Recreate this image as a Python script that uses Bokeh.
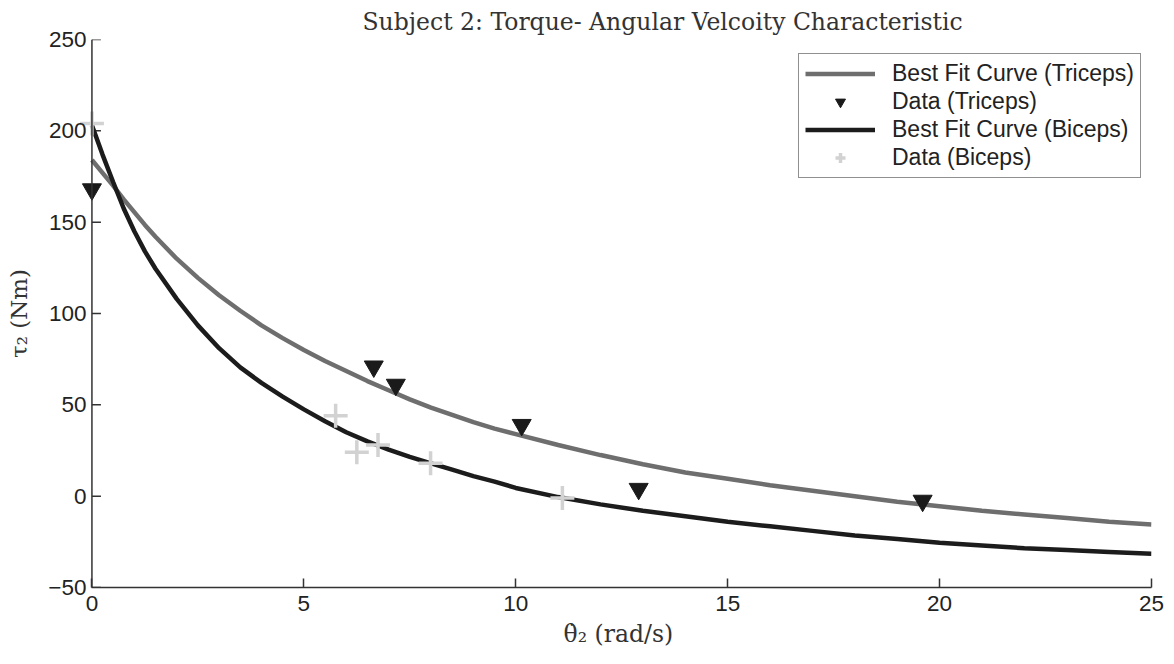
from bokeh.plotting import figure
from bokeh.models import Range1d, Legend, LegendItem, FixedTicker, Span, Title
from bokeh.embed import file_html
from bokeh.resources import INLINE

# ---- data ----
fit_x = [0, 0.25, 0.5, 0.75, 1, 1.25, 1.5, 2, 2.5, 3, 3.5, 4, 4.5, 5, 5.5,
         6, 6.5, 7, 7.5, 8, 8.5, 9, 9.5, 10, 11, 12, 13, 14, 15, 16, 17, 18,
         19, 20, 21, 22, 23, 24, 25]
triceps_fit = [184, 177, 170, 162.5, 155.5, 148.5, 142, 130, 119.5, 110,
               101.5, 93.5, 86.5, 80, 74, 68.5, 63, 58, 53, 48.5, 44.5, 40.5,
               37, 34, 28, 22.5, 17.5, 13, 9.5, 6, 3, 0, -3, -5.5, -8, -10,
               -12, -14, -15.5]
biceps_fit = [203, 187, 172, 157.5, 145, 134, 124.5, 108, 93.5, 81, 70.5, 62,
              54.5, 47.5, 41, 35, 30, 25.5, 21.5, 18, 14.5, 11, 8, 4.5, -0.5,
              -4.5, -8, -11, -14, -16.5, -19, -21.5, -23.5, -25.5, -27, -28.5,
              -29.5, -30.5, -31.5]

triceps_x = [0, 6.65, 7.17, 10.14, 12.9, 19.6]
triceps_y = [168, 71, 61, 39, 4, -2.5]

biceps_x = [0, 5.75, 6.25, 6.75, 7.99, 11.1]
biceps_y = [204, 44, 24, 28, 18, -1]

x_ticks = [0, 5, 10, 15, 20, 25]
y_ticks = [-50, 0, 50, 100, 150, 200, 250]

title_text = "Subject 2: Torque- Angular Velcoity Characteristic"
x_label = "\u03b8\u0307\u2082 (rad/s)"
y_label = "\u03c4\u2082 (Nm)"

AX = "#333333"
X_MIN, X_MAX = 0, 25
Y_MIN, Y_MAX = -50, 250

# frame starts slightly left of x=0 so the markers at x=0 are not clipped
p = figure(width=1174, height=664, output_backend="svg", toolbar_location=None,
           x_range=Range1d(X_MIN - 0.6, X_MAX), y_range=Range1d(Y_MIN, Y_MAX),
           min_border_left=66, min_border_right=23, min_border_top=39,
           min_border_bottom=77)
p.outline_line_color = None
p.background_fill_color = "white"
p.border_fill_color = "white"
p.xgrid.visible = False
p.ygrid.visible = False

p.title.text = title_text
p.title.text_font = "DejaVu Serif"
p.title.text_font_style = "normal"
p.title.text_font_size = "23.5px"
p.title.text_color = AX
p.title.align = "left"
p.title.offset = 296
p.title.standoff = 8

for ax, ticks in ((p.xaxis[0], x_ticks), (p.yaxis[0], y_ticks)):
    ax.ticker = FixedTicker(ticks=ticks)
    ax.major_tick_in = 9
    ax.major_tick_out = 0
    ax.minor_tick_line_color = None
    ax.axis_line_color = AX
    ax.major_tick_line_color = AX
    ax.axis_line_width = 1.5
    ax.major_tick_line_width = 1.5
    ax.major_label_text_font = "Liberation Sans"
    ax.major_label_text_font_size = "22.5px"
    ax.major_label_text_color = "#222222"
    ax.axis_label_text_font = "DejaVu Serif"
    ax.axis_label_text_font_style = "normal"
    ax.axis_label_text_color = AX

p.xaxis[0].bounds = (X_MIN, X_MAX)
p.xaxis[0].major_label_standoff = 8
# y axis: the visible line and ticks are drawn at x = 0 below
p.yaxis[0].axis_line_color = None
p.yaxis[0].major_tick_line_color = None
p.yaxis[0].major_label_standoff = -20
p.yaxis[0].axis_label = y_label
p.yaxis[0].axis_label_text_font_size = "23px"
p.yaxis[0].axis_label_standoff = 13

p.add_layout(Span(location=X_MIN, dimension="height", line_color=AX,
                  line_width=1.5))
p.ray(x=[X_MIN] * len(y_ticks), y=y_ticks, length=9, length_units="screen",
      angle=0, line_color=AX, line_width=1.5)

# x axis title under the 0..25 axis span
p.add_layout(Title(text=x_label, align="left", offset=497, standoff=9,
                   text_font="DejaVu Serif", text_font_style="normal",
                   text_font_size="23.5px", text_color=AX), "below")

r_tfit = p.line(fit_x, triceps_fit, line_color="#6e6e6e", line_width=4.5)
r_tdat = p.scatter(triceps_x, triceps_y, marker="inverted_triangle", size=19,
                   fill_color="#1a1a1a", line_color="#1a1a1a")
r_bfit = p.line(fit_x, biceps_fit, line_color="#1c1c1c", line_width=4.5)
r_bdat = p.scatter(biceps_x, biceps_y, marker="cross", size=24,
                   line_color="#d2d2d2", line_width=3.5)

legend = Legend(items=[
    LegendItem(label="Best Fit Curve (Triceps)", renderers=[r_tfit]),
    LegendItem(label="Data (Triceps)", renderers=[r_tdat]),
    LegendItem(label="Best Fit Curve (Biceps)", renderers=[r_bfit]),
    LegendItem(label="Data (Biceps)", renderers=[r_bdat]),
], location=(732, 409))
legend.label_text_font = "Liberation Sans"
legend.label_text_font_size = "23px"
legend.label_text_color = "#222222"
legend.glyph_width = 70
legend.glyph_height = 25
legend.label_height = 25
legend.spacing = 1
legend.padding = 6
legend.margin = 0
legend.label_standoff = 17
legend.border_line_color = "#222222"
legend.border_line_width = 1.5
legend.background_fill_alpha = 1
p.add_layout(legend, "center")

with open("out.html", "w") as f:
    f.write(file_html(p, INLINE))
